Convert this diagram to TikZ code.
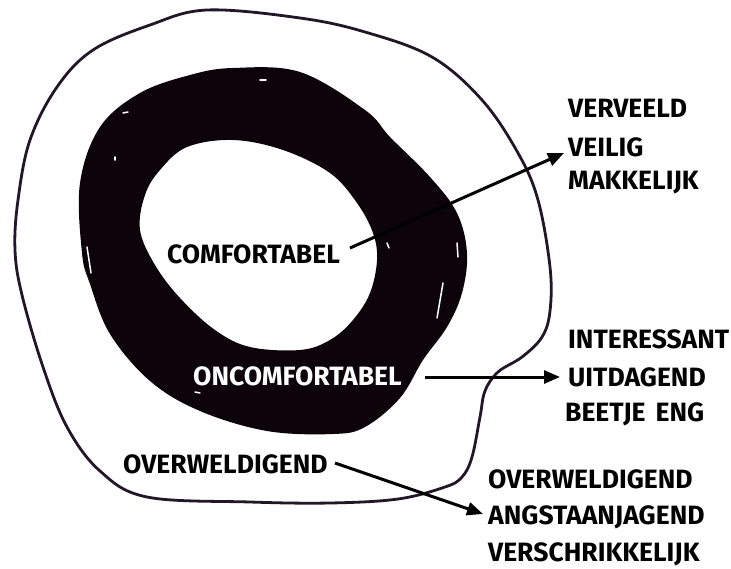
\documentclass[tikz,border=0pt]{standalone}
\usepackage{fontspec}
\setmainfont{Fira Sans}
\usetikzlibrary{arrows.meta}
\definecolor{ink}{RGB}{12,4,8}
\definecolor{pen}{RGB}{34,22,40}
\begin{document}
\begin{tikzpicture}[x=1pt,y=-1pt,
  lbl/.style={font=\fontsize{26.5}{26.5}\selectfont\bfseries, anchor=west, inner sep=0pt, text=black},
  wlbl/.style={lbl, text=white},
  arr/.style={line width=3pt, draw=black, -{Triangle[length=16pt,width=13pt]}},
  loopline/.style={line width=2.8pt, draw=pen},
  speck/.style={line width=1.5pt, draw=white, line cap=round}]
\useasboundingbox (0,0) rectangle (731,568);
\fill[white] (0,0) rectangle (731,568);
% outer loop
\draw[loopline] plot[smooth cycle, tension=0.6] coordinates {(207,10) (300,18) (365,32) (432,57) (482,100) (518,153) (538,200) (550,267) (550,311) (542,337) (522,357) (498,372) (485,391) (480,417) (472,457) (462,477) (445,487) (398,499) (330,503) (250,502) (147,497) (100,471) (67,427) (43,367) (22,295) (15,250) (18,200) (30,140) (57,87) (93,50) (150,25)};
% black ring
\fill[ink, even odd rule]
  plot[smooth cycle, tension=0.6] coordinates {(233,68) (300,72) (365,110) (390,137) (430,177) (457,213) (467,253) (462,293) (447,327) (423,360) (400,398) (365,427) (333,434) (267,431) (200,411) (150,381) (110,334) (90,284) (82,253) (80,183) (100,127) (140,93) (190,75)}
  plot[smooth cycle, tension=0.6] coordinates {(160,170) (187,147) (233,140) (283,150) (330,173) (357,203) (373,233) (377,260) (370,293) (353,320) (330,340) (300,350) (250,347) (215,330) (180,298) (155,265) (140,230) (145,195)};
% highlights
\draw[speck] (260,80) -- (266,80);
\draw[speck] (123,113) -- (128,112);
\draw[speck] (115,157) -- (115,160);
\draw[speck] (87,247) -- (91,273);
\draw[speck] (387,243) -- (389,248);
\draw[speck] (457,243) -- (458,257);
\draw[speck] (443,283) -- (437,318);
\draw[speck] (195,392) -- (200,393);
% labels
\node[lbl] (comf) at (167,254) {COMFORTABEL};
\node[wlbl] (oncomf) at (193,376) {ONCOMFORTABEL};
\node[lbl] (overin) at (123,464) {OVERWELDIGEND};
\node[lbl] (v1) at (568,108) {VERVEELD};
\node[lbl] (v2) at (568,147) {VEILIG};
\node[lbl] (v3) at (568,183) {MAKKELIJK};
\node[lbl] (i1) at (568,339) {INTERESSANT};
\node[lbl] (i2) at (568,377) {UITDAGEND};
\node[lbl] (i3) at (565,414) {BEETJE\hspace{10pt}ENG};
\node[lbl] (o1) at (488,479) {OVERWELDIGEND};
\node[lbl] (o2) at (488,517) {ANGSTAANJAGEND};
\node[lbl] (o3) at (488,554) {VERSCHRIKKELIJK};
% connectors
\coordinate (s1) at (350,248);
\coordinate (s2) at (425,377);
\coordinate (s3) at (335,463);
\draw[arr] (s1) -- ([shift={(-4,6)}]v2.west);
\draw[arr] (s2) -- ([xshift=-8]i2.west);
\draw[arr] (s3) -- ([shift={(-5,-3)}]o2.west);
\end{tikzpicture}
\end{document}
